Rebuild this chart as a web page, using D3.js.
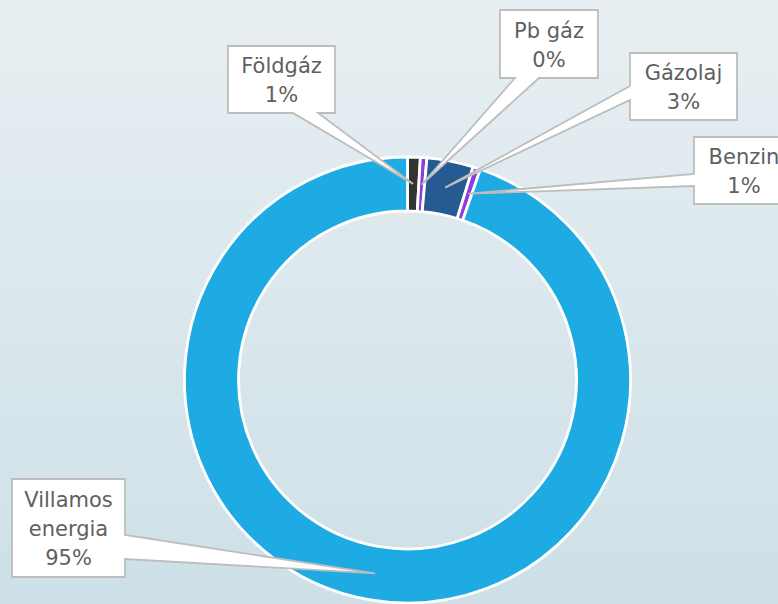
<!DOCTYPE html>
<html lang="hu">
<head>
    <meta charset="UTF-8">
    <title>Energiafelhasználás megoszlása</title>
    <script src="https://d3js.org/d3.v7.min.js"></script>
    <style>
        body { margin: 0; }
        #chart { display: block; }
        .label-text {
            font-family: "DejaVu Sans", sans-serif;
            font-size: 21px;
            fill: #5f5f5f;
        }
    </style>
</head>
<body>
    <svg id="chart" width="778" height="604"></svg>

    <script>
        // Chart data
        const categories = ['Földgáz', 'Pb gáz', 'Gázolaj', 'Benzin', 'Villamos energia'];
        const shares = [0.92, 0.47, 3.36, 0.55, 94.70];
        const colors = ['#333333', '#8c3fd8', '#255a93', '#8c3fd8', '#1eaae2'];

        // Callout boxes: x, y, w, h, side where the pointer leaves, and the pointer base
        const callouts = [
            { x: 228, y: 46, w: 107, h: 67, side: 'bottom', a: 293, b: 318 },
            { x: 500, y: 10, w: 98, h: 68, side: 'bottom', a: 515, b: 539 },
            { x: 630, y: 53, w: 107, h: 67, side: 'left', a: 86, b: 100 },
            { x: 694, y: 137, w: 100, h: 67, side: 'left', a: 174, b: 186 },
            { x: 12, y: 479, w: 113, h: 98, side: 'right', a: 535, b: 559 }
        ];

        const width = 778, height = 604;
        const cx = 407.5, cy = 380;
        const outerR = 223, innerR = 169;

        const svg = d3.select('#chart');

        // Background gradient
        const grad = svg.append('defs').append('linearGradient')
            .attr('id', 'bg')
            .attr('x1', 0).attr('y1', 0).attr('x2', 0).attr('y2', 1);
        grad.append('stop').attr('offset', '0%').attr('stop-color', '#e8eff2');
        grad.append('stop').attr('offset', '100%').attr('stop-color', '#cde0e7');
        svg.append('rect').attr('width', width).attr('height', height).attr('fill', 'url(#bg)');

        const data = categories.map((c, i) => ({ name: c, value: shares[i], color: colors[i] }));
        const total = d3.sum(shares);

        const pie = d3.pie().sort(null).value(d => d.value);
        const arc = d3.arc().innerRadius(innerR).outerRadius(outerR);
        const arcs = pie(data);

        const g = svg.append('g').attr('transform', `translate(${cx},${cy})`);

        g.selectAll('path.slice')
            .data(arcs)
            .enter().append('path')
            .attr('class', 'slice')
            .attr('d', arc)
            .attr('fill', d => d.data.color)
            .attr('stroke', '#ffffff')
            .attr('stroke-width', 2.8);

        // Callouts with pointer wedge to the slice centroid
        arcs.forEach((d, i) => {
            const c = callouts[i];
            const [tx, ty] = arc.centroid(d);
            const tipX = cx + tx, tipY = cy + ty;
            const x0 = c.x, y0 = c.y, x1 = c.x + c.w, y1 = c.y + c.h;
            let pts;
            if (c.side === 'bottom') {
                pts = [[x0, y0], [x1, y0], [x1, y1], [c.b, y1], [tipX, tipY], [c.a, y1], [x0, y1]];
            } else if (c.side === 'left') {
                pts = [[x0, y0], [x1, y0], [x1, y1], [x0, y1], [x0, c.b], [tipX, tipY], [x0, c.a]];
            } else {
                pts = [[x0, y0], [x1, y0], [x1, c.a], [tipX, tipY], [x1, c.b], [x1, y1], [x0, y1]];
            }
            svg.append('path')
                .attr('d', 'M' + pts.map(p => p.join(',')).join('L') + 'Z')
                .attr('fill', '#ffffff')
                .attr('stroke', '#bdbdbd')
                .attr('stroke-width', 1.8)
                .attr('stroke-linejoin', 'miter');

            const pct = Math.round(d.data.value / total * 100) + '%';
            const lines = d.data.name === 'Villamos energia'
                ? ['Villamos', 'energia', pct]
                : [d.data.name, pct];
            const lineH = 29;
            const mid = c.y + c.h / 2;
            const first = mid - (lines.length - 1) * lineH / 2 + 8;
            const text = svg.append('text')
                .attr('class', 'label-text')
                .attr('text-anchor', 'middle');
            lines.forEach((t, k) => {
                text.append('tspan')
                    .attr('x', c.x + c.w / 2)
                    .attr('y', first + k * lineH)
                    .text(t);
            });
        });
    </script>
</body>
</html>
